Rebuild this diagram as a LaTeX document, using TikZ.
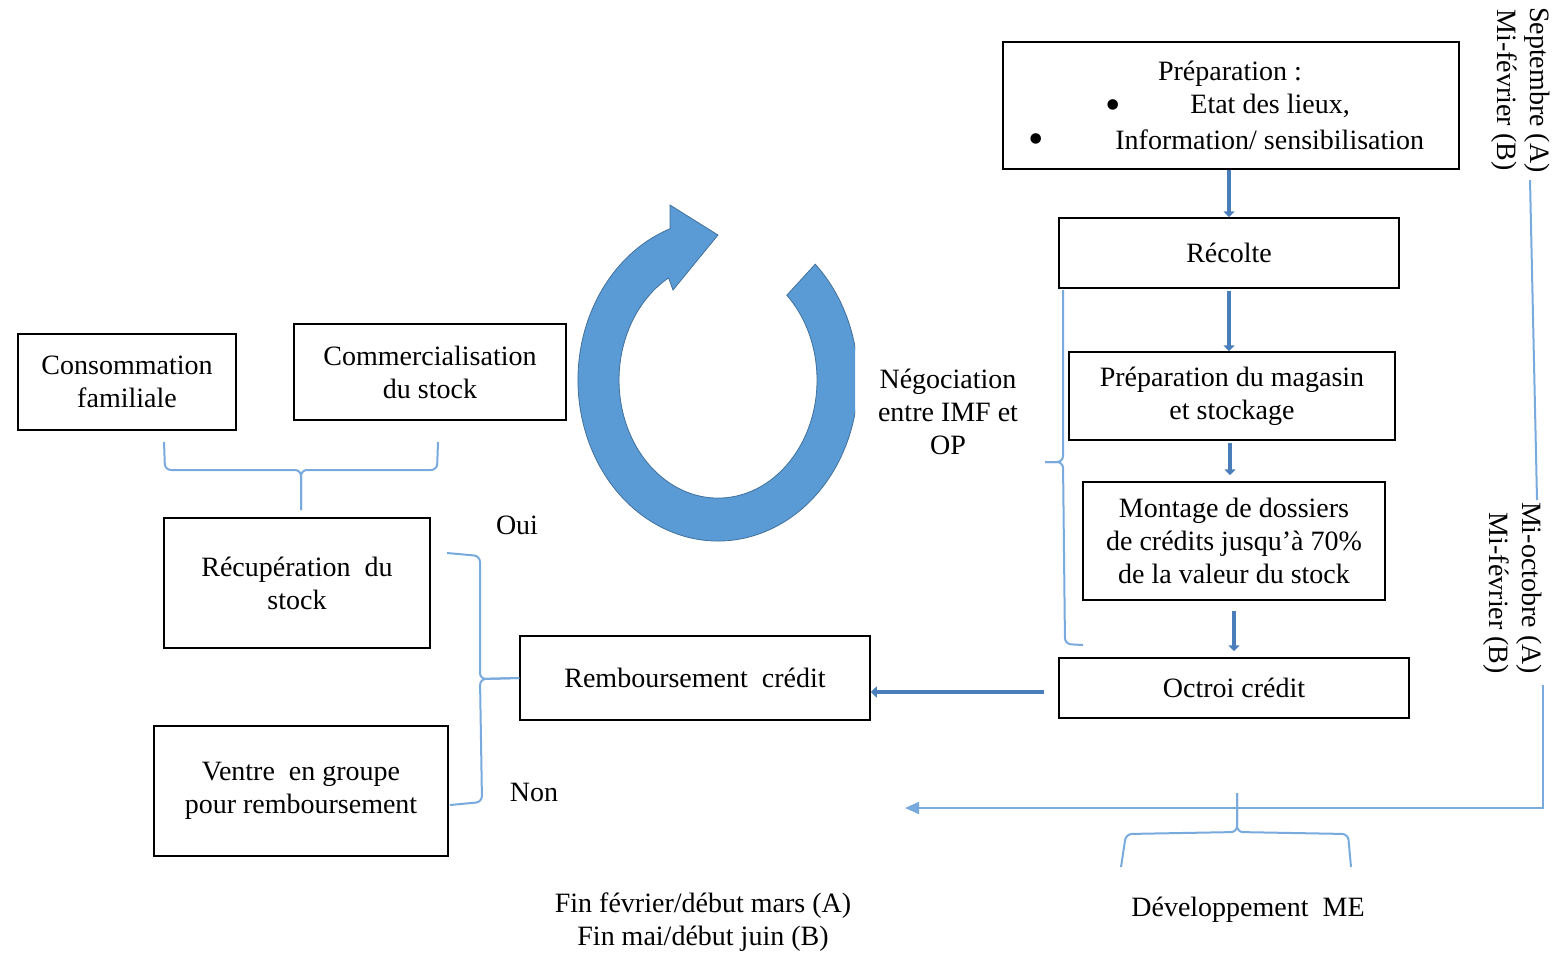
\documentclass[tikz,border=0pt]{standalone}
\usepackage{fontspec}
\setmainfont{Liberation Serif}
\usetikzlibrary{arrows.meta}
\definecolor{darkb}{RGB}{74,126,187}
\definecolor{lightb}{RGB}{120,170,222}
\definecolor{ringfill}{RGB}{91,155,213}
\definecolor{ringdraw}{RGB}{65,113,156}
\begin{document}
\begin{tikzpicture}[x=0.5pt,y=-0.5pt,
  every node/.style={font=\fontsize{14}{16.5}\selectfont, inner sep=0pt},
  box/.style={draw=black, line width=0.75pt, align=center},
  bul/.style={font=\fontsize{22}{22}\selectfont},
  darr/.style={draw=darkb, line width=2.2pt, -{Triangle[length=3pt,width=5.5pt]}},
  brc/.style={draw=lightb, line width=1pt, rounded corners=3pt},
  lline/.style={draw=lightb, line width=1pt},
  lab/.style={align=center}]
\useasboundingbox (0,0) rectangle (1557,955);

% boxes
\node[box, minimum width=228pt, minimum height=63.5pt] (prep) at (1231,105.5) {};
\node (preptitle) at (1230,74) {Préparation :};
\node[bul] (b1) at (1113,110) {•};
\node[anchor=west] (etat) at (1190,106) {Etat des lieux,};
\node[bul] (b2) at (1036,144) {•};
\node[anchor=west] (info) at (1115,140) {Information/ sensibilisation};

\node[box, minimum width=170pt, minimum height=35pt] (recolte) at (1229,253) {Récolte};
\node[box, minimum width=163pt, minimum height=44pt] (magasin) at (1232,396) {Préparation du magasin\\et stockage};
\node[box, minimum width=151pt, minimum height=59pt] (montage) at (1234,541) {Montage de dossiers\\de crédits jusqu’à 70\%\\de la valeur du stock};
\node[box, minimum width=175pt, minimum height=30pt] (octroi) at (1234,688) {Octroi crédit};
\node[box, minimum width=175pt, minimum height=42pt] (rembours) at (695,678) {Remboursement\ \ crédit};
\node[box, minimum width=133pt, minimum height=65pt] (recup) at (297,583) {Récupération\ \ du\\stock};
\node[box, minimum width=147pt, minimum height=65pt] (ventre) at (301,791) {Ventre\ \ en groupe\\pour remboursement};
\node[box, minimum width=109pt, minimum height=48pt] (conso) at (127,382) {Consommation\\familiale};
\node[box, minimum width=136pt, minimum height=48pt] (commerc) at (430,372) {Commercialisation\\du stock};

% free texts
\node[lab] (nego) at (948,412) {Négociation\\entre IMF et\\OP};
\node (oui) at (517,525) {Oui};
\node (non) at (534,792) {Non};
\node[lab] (fin) at (703,922) {Fin février/début mars (A)\\Fin mai/début juin (B)};
\node (dev) at (1248,910) {Développement\ \ ME};
\node[lab, rotate=-90] (sept) at (1521,90) {Septembre (A)\\Mi-février (B)};
\node[align=right, rotate=-90] (mioct) at (1513,588) {Mi-octobre (A)\\Mi-février (B)};

% dark arrows
\draw[darr] (prep.south -| recolte.north) -- (recolte.north);
\draw[darr, shorten <=1pt] (recolte.south) -- (recolte.south |- magasin.north);
\draw[darr, shorten <=1pt, shorten >=3pt] ([xshift=-1pt]magasin.south) -- ([xshift=-1pt]magasin.south |- montage.north);
\draw[darr, shorten <=5pt, shorten >=3pt] (montage.south) -- (montage.south |- octroi.north);
\draw[darr, shorten <=7pt] ([yshift=-2pt]octroi.west) -- ([yshift=-2pt]octroi.west -| rembours.east);

% circular arrow
\begin{scope}
\clip (560,190) rectangle (855,560);
\filldraw[fill=ringfill, draw=ringdraw, line width=0.4pt]
  (670.1,228.7) arc[start angle=-110, end angle=-406, x radius=140, y radius=161]
  -- (786.8,295.2) arc[start angle=-406, end angle=-120, x radius=99, y radius=118]
  -- (673,290) -- (718,235) -- (670,205) -- cycle;
\end{scope}

% braces
\coordinate (t1) at (301,510);
\draw[brc] (164,442) -- (165,470) -- (301,470) -- (t1);
\draw[brc] (t1) -- (301,470) -- (437,470) -- (438,442);

\draw[brc] (447,553) -- (480,556) -- (480,679) -- (rembours.west);
\draw[brc] (rembours.west) -- (480,679) -- (482,802) -- (450,805);

\coordinate (t3) at (1045,462);
\draw[brc] (1063,290) -- (1063,462) -- (t3);
\draw[brc] (t3) -- (1063,462) -- (1065,644) -- (1083,645);

\coordinate (t4) at (1237,793);
\draw[brc] (t4) -- (1237,832) -- (1126,834) -- (1121,867);
\draw[brc] (t4) -- (1237,832) -- (1348,834) -- (1351,867);

% right timeline
\coordinate (s1) at (1530,180);
\coordinate (s2) at (1537,500);
\coordinate (s3) at (1543,685);
\coordinate (s4) at (1543,808);
\coordinate (s5) at (905,808);
\draw[lline] (s1) -- (s2);
\draw[lline, -{Triangle[length=7pt,width=6pt]}] (s3) -- (s4) -- (s5);
\end{tikzpicture}
\end{document}
